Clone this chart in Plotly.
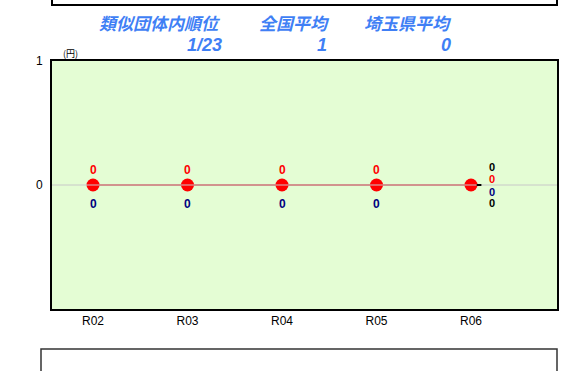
import plotly.graph_objects as go

categories = ["R02", "R03", "R04", "R05", "R06"]
x_pos = [0, 1, 2, 3, 4]
values = [0, 0, 0, 0, 0]
above_labels = ["0", "0", "0", "0"]
below_labels = ["0", "0", "0", "0"]
r06_labels = ["0", "0", "0", "0"]
r06_colors = ["black", "red", "navy", "black"]
header_titles = ["類似団体内順位", "全国平均", "埼玉県平均"]
header_values = ["1/23", "1", "0"]

W, H = 588, 371
l, r, t, b = 52, 31, 61, 62
pw, ph = W - l - r, H - t - b

def px(x):
    return (x - l) / pw

def py(y_from_top):
    return (H - y_from_top - b) / ph

fig = go.Figure()

fig.add_shape(type="line", xref="x", yref="y", x0=-0.45, x1=4.95, y0=0, y1=0,
              line=dict(color="#c8c8c8", width=1))
fig.add_shape(type="line", xref="x", yref="y", x0=4.06, x1=4.11, y0=0, y1=0,
              line=dict(color="black", width=2))

fig.add_trace(go.Scatter(
    x=x_pos, y=values, mode="lines+markers",
    line=dict(color="#d92a2a", width=1.5),
    marker=dict(color="red", size=13, symbol="circle"),
    hoverinfo="skip", showlegend=False))

lab_font = "Liberation Sans"
for i in range(4):
    fig.add_annotation(x=x_pos[i], y=values[i], text="<b>" + above_labels[i] + "</b>", showarrow=False,
                       yshift=15, font=dict(family=lab_font, size=12, color="red"))
    fig.add_annotation(x=x_pos[i], y=values[i], text="<b>" + below_labels[i] + "</b>", showarrow=False,
                       yshift=-19, font=dict(family=lab_font, size=12, color="navy"))
shifts = [18, 6, -7, -18]
for lab, col, s in zip(r06_labels, r06_colors, shifts):
    fig.add_annotation(x=x_pos[4], y=values[4], text="<b>" + lab + "</b>", showarrow=False,
                       xshift=21, yshift=s,
                       font=dict(family=lab_font, size=11, color=col))

title_x = [160, 294, 408]
for tt, xx in zip(header_titles, title_x):
    fig.add_annotation(x=px(xx), y=py(22), xref="paper", yref="paper",
                       text="<b><i>" + tt + "</i></b>", xanchor="center", yanchor="middle",
                       showarrow=False,
                       font=dict(family="Noto Sans CJK JP", size=17, color="#3f7ff5", weight=900))
val_right = [224, 329, 453]
for v, xx in zip(header_values, val_right):
    fig.add_annotation(x=px(xx), y=py(45), xref="paper", yref="paper",
                       text="<b><i>" + v + "</i></b>", xanchor="right", yanchor="middle",
                       showarrow=False,
                       font=dict(family="Liberation Sans", size=18, color="#3f7ff5"))

fig.add_annotation(x=px(70), y=py(53), xref="paper", yref="paper", text="(円)", showarrow=False,
                   xanchor="center", yanchor="middle",
                   font=dict(family="Noto Sans CJK JP", size=9, color="black"))

fig.add_shape(type="rect", xref="paper", yref="paper", x0=px(52), x1=px(557), y0=py(5), y1=py(-20),
              line=dict(color="black", width=2), fillcolor="rgba(0,0,0,0)", layer="above")
fig.add_shape(type="rect", xref="paper", yref="paper", x0=px(41), x1=px(557), y0=py(349), y1=py(390),
              line=dict(color="#333", width=1.5), fillcolor="rgba(0,0,0,0)", layer="above")

fig.update_layout(
    width=W, height=H,
    margin=dict(l=l, r=r, t=t, b=b),
    paper_bgcolor="white", plot_bgcolor="#e4fdd4",
    showlegend=False,
    xaxis=dict(range=[-0.434, 4.91], tickmode="array", tickvals=x_pos, ticktext=categories,
               showgrid=False, zeroline=False, showline=True, linecolor="black", linewidth=2,
               mirror=True, ticks="", ticklen=0,
               tickfont=dict(family="Liberation Sans", size=12, color="black")),
    yaxis=dict(range=[-1, 1], tickmode="array", tickvals=[0, 1], ticktext=["0", "1"],
               showgrid=False, zeroline=False, showline=True, linecolor="black", linewidth=2,
               mirror=True, ticks="", ticklen=0, ticklabelstandoff=5,
               tickfont=dict(family="Liberation Sans", size=12, color="black")),
)

fig.write_html("out.html")
